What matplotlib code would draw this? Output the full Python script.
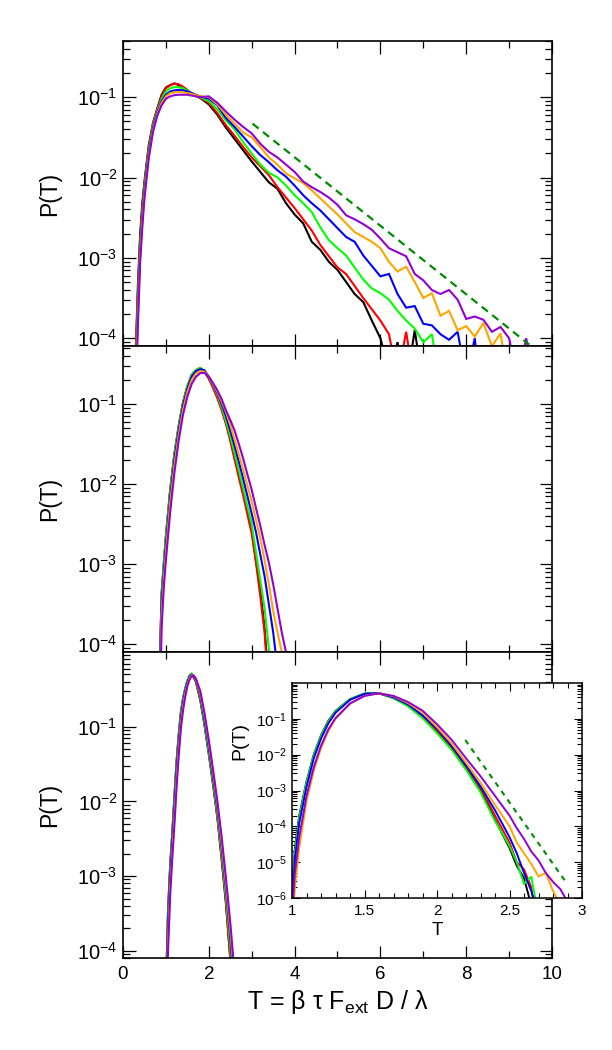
import numpy as np
import matplotlib
matplotlib.use("Agg")
import matplotlib.pyplot as plt
from matplotlib.ticker import FixedLocator, MultipleLocator, NullFormatter, FuncFormatter

plt.rcParams['font.family'] = ['Liberation Sans', 'DejaVu Sans']
plt.rcParams['mathtext.fontset'] = 'custom'
plt.rcParams['mathtext.rm'] = 'Liberation Sans'
plt.rcParams['mathtext.it'] = 'Liberation Sans:italic'
plt.rcParams['mathtext.bf'] = 'Liberation Sans:bold'

# ---- data: log10 P(T), one list per curve ----
colors = ['black', 'red', '#00ff00', 'blue', '#ffa500', '#9400d3']
dash_color = '#008b00'

# top panel
top_T = [0.3, 0.35, 0.4, 0.45, 0.5, 0.6, 0.7, 0.8, 0.9, 1.0, 1.1, 1.2, 1.3, 1.4, 1.5, 1.6, 1.8,
         2.0, 2.2, 2.4, 2.6, 2.8, 3.0, 3.2, 3.4, 3.6, 3.8, 4.0, 4.2, 4.4, 4.6, 4.8, 5.0, 5.2, 5.4,
         5.6, 5.8, 6.0, 6.2, 6.4, 6.6, 6.8, 7.0, 7.2, 7.4, 7.6, 7.8, 8.0, 8.2, 8.4, 8.6, 8.8, 9.0,
         9.2, 9.4, 9.6, 9.8, 10.0]
top_black = [-4.1, -3.3, -2.7, -2.32, -2.05, -1.60, -1.32, -1.14, -0.97, -0.88, -0.85, -0.83, -0.85, -0.88, -0.92, -0.96, -1.01,
             -1.09, -1.22, -1.38, -1.52, -1.66, -1.80, -1.93, -2.06, -2.14, -2.32, -2.46, -2.57, -2.80, -2.90, -3.05, -3.15, -3.30, -3.45,
             -3.55, -3.78, -4.00, -4.40, -4.05, -4.60, -3.90, -4.60, -5, -5, -5, -5, -5, -5, -5, -5, -5, -5,
             -5, -5, -5, -5, -5]
top_red = [-4.2, -3.4, -2.78, -2.38, -2.08, -1.63, -1.33, -1.15, -0.99, -0.89, -0.85, -0.83, -0.84, -0.87, -0.91, -0.95, -1.01,
           -1.07, -1.20, -1.35, -1.48, -1.62, -1.75, -1.86, -1.97, -2.12, -2.25, -2.38, -2.52, -2.66, -2.84, -2.98, -3.12, -3.20, -3.35,
           -3.50, -3.64, -3.78, -3.95, -4.50, -3.92, -4.60, -5, -5, -5, -5, -5, -5, -5, -5, -5, -5, -5,
           -5, -5, -5, -5, -5]
top_green = [-4.3, -3.5, -2.85, -2.44, -2.12, -1.66, -1.35, -1.17, -1.02, -0.93, -0.89, -0.875, -0.875, -0.89, -0.92, -0.95, -1.00,
             -1.05, -1.15, -1.29, -1.40, -1.56, -1.70, -1.84, -1.94, -2.00, -2.10, -2.22, -2.32, -2.43, -2.62, -2.78, -2.88, -2.97, -3.12,
             -3.27, -3.38, -3.44, -3.52, -3.66, -3.78, -3.88, -4.05, -3.95, -4.60, -5, -5, -5, -5, -5, -5, -5, -5,
             -5, -5, -5, -5, -5]
top_blue = [-4.45, -3.6, -2.93, -2.50, -2.17, -1.70, -1.38, -1.19, -1.05, -0.97, -0.93, -0.915, -0.91, -0.915, -0.93, -0.95, -0.99,
            -1.02, -1.10, -1.26, -1.37, -1.49, -1.61, -1.72, -1.81, -1.91, -1.99, -2.10, -2.22, -2.32, -2.41, -2.52, -2.63, -2.74, -2.80,
            -2.97, -3.10, -3.23, -3.20, -3.45, -3.62, -3.60, -3.82, -3.84, -3.95, -4.02, -3.92, -4.50, -4.00, -5, -5, -5, -5,
            -5, -5, -5, -5, -5]
top_orange = [-4.55, -3.7, -3.0, -2.56, -2.22, -1.74, -1.41, -1.21, -1.07, -0.99, -0.95, -0.94, -0.935, -0.94, -0.95, -0.96, -0.99,
              -1.00, -1.09, -1.22, -1.33, -1.44, -1.50, -1.62, -1.75, -1.84, -1.95, -2.01, -2.07, -2.16, -2.26, -2.36, -2.46, -2.57, -2.68,
              -2.74, -2.80, -2.88, -3.05, -3.17, -3.11, -3.30, -3.50, -3.44, -3.72, -3.66, -3.90, -3.85, -3.98, -3.81, -4.10, -3.94, -4.60,
              -5, -5, -5, -5, -5]
top_purple = [-4.7, -3.8, -3.05, -2.62, -2.26, -1.76, -1.43, -1.23, -1.10, -1.02, -0.99, -0.975, -0.97, -0.97, -0.97, -0.98, -1.00,
              -0.99, -1.07, -1.18, -1.28, -1.37, -1.45, -1.58, -1.68, -1.75, -1.84, -1.93, -2.05, -2.12, -2.18, -2.25, -2.34, -2.47, -2.52,
              -2.58, -2.65, -2.76, -2.88, -2.93, -2.98, -3.20, -3.28, -3.40, -3.45, -3.40, -3.52, -3.76, -3.73, -3.77, -3.92, -3.86, -4.00,
              -4.50, -4.00, -4.60, -5, -4.06]
top_fit_T = [3.02, 9.47]
top_fit = [-1.33, -4.08]

# middle panel
mid_T = [0.85, 0.9, 0.95, 1.0, 1.1, 1.2, 1.3, 1.4, 1.5, 1.6, 1.7, 1.8, 1.9, 2.0, 2.1, 2.2, 2.3,
         2.4, 2.5, 2.6, 2.7, 2.8, 2.9, 3.0, 3.1, 3.2, 3.3, 3.4, 3.5, 3.6, 3.7, 3.8, 3.9]
mid_black = [-4.5, -3.36, -3.0, -2.65, -2.07, -1.62, -1.27, -0.98, -0.78, -0.64, -0.58, -0.555, -0.60, -0.68, -0.79, -0.91, -1.06,
             -1.23, -1.43, -1.66, -1.88, -2.10, -2.33, -2.56, -2.96, -3.32, -3.80, -4.5, -5, -5, -5, -5, -5]
mid_red = [-4.3, -3.4, -3.02, -2.66, -2.08, -1.62, -1.27, -0.98, -0.78, -0.64, -0.575, -0.55, -0.59, -0.68, -0.80, -0.93, -1.08,
           -1.25, -1.46, -1.69, -1.92, -2.14, -2.38, -2.62, -2.98, -3.40, -3.85, -4.6, -5, -5, -5, -5, -5]
mid_green = [-4.4, -3.4, -3.0, -2.66, -2.09, -1.63, -1.28, -0.99, -0.78, -0.64, -0.575, -0.55, -0.58, -0.66, -0.77, -0.89, -1.04,
             -1.21, -1.40, -1.61, -1.83, -2.05, -2.28, -2.50, -2.85, -3.20, -3.55, -4.05, -4.6, -5, -5, -5, -5]
mid_blue = [-4.6, -3.5, -3.1, -2.75, -2.16, -1.69, -1.32, -1.02, -0.81, -0.66, -0.59, -0.565, -0.58, -0.66, -0.76, -0.87, -1.00,
            -1.15, -1.33, -1.52, -1.72, -1.93, -2.15, -2.37, -2.60, -2.88, -3.15, -3.50, -3.85, -4.3, -5, -5, -5]
mid_orange = [-4.8, -3.65, -3.2, -2.85, -2.24, -1.76, -1.38, -1.07, -0.85, -0.70, -0.62, -0.59, -0.595, -0.66, -0.75, -0.85, -0.97,
              -1.10, -1.26, -1.44, -1.63, -1.82, -2.02, -2.22, -2.45, -2.68, -2.95, -3.25, -3.58, -3.85, -4.1, -4.6, -5]
mid_purple = [-5.0, -3.8, -3.3, -2.95, -2.35, -1.85, -1.45, -1.13, -0.91, -0.75, -0.66, -0.615, -0.61, -0.66, -0.74, -0.83, -0.94,
              -1.08, -1.20, -1.33, -1.50, -1.68, -1.88, -2.07, -2.30, -2.52, -2.76, -2.98, -3.25, -3.55, -3.85, -4.1, -4.6]

# bottom panel
bot_T = [1.0, 1.05, 1.1, 1.15, 1.2, 1.25, 1.3, 1.35, 1.4, 1.45, 1.5, 1.55, 1.6, 1.65, 1.7,
         1.8, 1.9, 2.0, 2.1, 2.2, 2.3, 2.4, 2.5, 2.6, 2.7]
bot_black = [-4.6, -3.45, -2.85, -2.41, -1.92, -1.45, -1.10, -0.80, -0.62, -0.49, -0.39, -0.33, -0.31, -0.34, -0.40,
             -0.64, -0.98, -1.37, -1.78, -2.22, -2.78, -3.37, -4.1, -5, -5]
bot_red = [-4.7, -3.5, -2.88, -2.44, -1.95, -1.48, -1.12, -0.82, -0.63, -0.50, -0.39, -0.325, -0.30, -0.33, -0.39,
           -0.62, -0.96, -1.35, -1.76, -2.20, -2.75, -3.35, -4.1, -5, -5]
bot_green = [-4.8, -3.55, -2.92, -2.48, -1.98, -1.50, -1.14, -0.83, -0.63, -0.49, -0.38, -0.31, -0.29, -0.32, -0.38,
             -0.61, -0.95, -1.34, -1.74, -2.17, -2.70, -3.28, -3.95, -5, -5]
bot_blue = [-4.85, -3.65, -3.0, -2.55, -2.06, -1.57, -1.20, -0.88, -0.67, -0.52, -0.41, -0.33, -0.30, -0.32, -0.37,
            -0.58, -0.90, -1.28, -1.68, -2.10, -2.62, -3.18, -3.82, -4.6, -5]
bot_orange = [-5.0, -3.85, -3.15, -2.68, -2.20, -1.70, -1.30, -0.96, -0.73, -0.56, -0.44, -0.35, -0.31, -0.32, -0.36,
              -0.55, -0.85, -1.22, -1.62, -2.04, -2.55, -3.10, -3.72, -4.4, -5]
bot_purple = [-5.0, -4.0, -3.25, -2.75, -2.30, -1.80, -1.38, -1.02, -0.78, -0.60, -0.46, -0.37, -0.32, -0.32, -0.36,
              -0.52, -0.82, -1.18, -1.58, -2.00, -2.48, -3.03, -3.62, -4.3, -5]

# inset (zoom of the bottom panel)
ins_T = [1.0, 1.02, 1.05, 1.1, 1.15, 1.2, 1.25, 1.3, 1.4, 1.5, 1.6, 1.7, 1.8, 1.9, 2.0,
         2.1, 2.2, 2.3, 2.4, 2.5, 2.55, 2.6, 2.65, 2.7, 2.75, 2.8, 2.85, 2.9, 2.95, 3.0]
ins_black = [-6.0, -4.6, -3.7, -2.75, -2.0, -1.46, -1.06, -0.78, -0.45, -0.30, -0.29, -0.42, -0.63, -0.95, -1.35,
             -1.80, -2.35, -2.95, -3.82, -4.60, -5.10, -5.45, -6.2, -7, -7, -7, -7, -7, -7, -7]
ins_red = [-6.2, -4.8, -3.8, -2.82, -2.05, -1.50, -1.09, -0.80, -0.46, -0.30, -0.29, -0.41, -0.62, -0.93, -1.32,
           -1.78, -2.33, -2.92, -3.70, -4.45, -5.0, -5.2, -5.7, -7, -7, -7, -7, -7, -7, -7]
ins_green = [-6.1, -4.7, -3.75, -2.78, -2.02, -1.48, -1.08, -0.79, -0.45, -0.29, -0.28, -0.42, -0.65, -0.98, -1.40,
             -1.86, -2.42, -3.05, -3.85, -4.55, -5.0, -5.6, -5.4, -6.5, -7, -7, -7, -7, -7, -7]
ins_blue = [-6.3, -4.9, -3.9, -2.9, -2.1, -1.55, -1.13, -0.83, -0.47, -0.30, -0.28, -0.40, -0.60, -0.90, -1.28,
            -1.75, -2.30, -2.88, -3.55, -4.30, -4.75, -5.3, -5.8, -6.5, -7, -7, -7, -7, -7, -7]
ins_orange = [-7, -5.7, -4.6, -3.3, -2.45, -1.82, -1.35, -1.0, -0.58, -0.36, -0.285, -0.37, -0.56, -0.82, -1.23,
              -1.68, -2.22, -2.78, -3.40, -4.00, -4.45, -4.75, -5.05, -5.4, -5.3, -5.8, -6.2, -7, -7, -7]
ins_purple = [-6.5, -5.3, -4.3, -3.15, -2.35, -1.75, -1.30, -0.98, -0.57, -0.36, -0.29, -0.36, -0.53, -0.77, -1.15,
              -1.58, -2.10, -2.60, -3.15, -3.70, -4.05, -4.35, -4.7, -4.95, -5.3, -5.55, -5.75, -6.1, -7, -7]
ins_fit_T = [2.195, 2.897]
ins_fit = [-1.59, -5.6]

# ---- figure ----
W, H = 612, 1050
fig = plt.figure(figsize=(W / 100, H / 100), dpi=100)


def logfmt(v, pos):
    return r'$\mathregular{10^{%d}}$' % int(round(np.log10(v)))


def style_axis(ax, ylim, labels):
    ax.set_yscale('log')
    ax.set_xlim(0, 10)
    ax.set_ylim(*ylim)
    ax.xaxis.set_major_locator(MultipleLocator(2))
    ax.xaxis.set_minor_locator(MultipleLocator(1))
    ax.yaxis.set_major_locator(FixedLocator([1e-4, 1e-3, 1e-2, 1e-1]))
    minors = [m * 10.0 ** e for e in range(-5, 1) for m in range(2, 10)]
    ax.yaxis.set_minor_locator(FixedLocator(minors))
    ax.yaxis.set_major_formatter(FuncFormatter(logfmt))
    ax.yaxis.set_minor_formatter(NullFormatter())
    ax.tick_params(which='both', direction='in', top=True, right=True, width=0.9)
    ax.tick_params(which='major', length=9)
    ax.tick_params(which='minor', length=5)
    ax.tick_params(axis='y', which='major', labelsize=14.5, pad=4)
    ax.tick_params(axis='x', which='major', labelsize=13.5, pad=6)
    if not labels:
        ax.tick_params(axis='x', labelbottom=False)
    for s in ax.spines.values():
        s.set_linewidth(1.2)
    ax.set_ylabel('P(T)', fontsize=16.5)
    ax.yaxis.set_label_coords(-0.145, 0.5)


def draw(ax, T, curves, lw=1.5):
    for c, vals in zip(colors, curves):
        ax.plot(T, 10.0 ** np.array(vals), color=c, lw=lw, solid_joinstyle='miter')


left, width = 123 / W, 429 / W
ax1 = fig.add_axes([left, 1 - 346 / H, width, 305 / H])
ax2 = fig.add_axes([left, 1 - 652 / H, width, 306 / H])
ax3 = fig.add_axes([left, 1 - 958 / H, width, 306 / H])

draw(ax1, top_T, [top_black, top_red, top_green, top_blue, top_orange, top_purple])
ax1.plot(top_fit_T, 10.0 ** np.array(top_fit), color=dash_color, lw=1.6, dashes=(3.5, 2.5))
style_axis(ax1, (8e-5, 0.5), False)

draw(ax2, mid_T, [mid_black, mid_red, mid_green, mid_blue, mid_orange, mid_purple])
style_axis(ax2, (8e-5, 0.53), False)

draw(ax3, bot_T, [bot_black, bot_red, bot_green, bot_blue, bot_orange, bot_purple])
style_axis(ax3, (8e-5, 1.0), True)
ax3.set_xlabel('T = β τ F$_{\\mathregular{ext}}$ D / λ', fontsize=18, labelpad=3)

# inset
axi = fig.add_axes([292 / W, 1 - 898 / H, 290 / W, 215 / H])
draw(axi, ins_T, [ins_black, ins_red, ins_green, ins_blue, ins_orange, ins_purple], lw=1.4)
axi.plot(ins_fit_T, 10.0 ** np.array(ins_fit), color=dash_color, lw=1.5, dashes=(2.5, 2.5))
axi.set_yscale('log')
axi.set_xlim(1, 3)
axi.set_ylim(1e-6, 1)
axi.xaxis.set_major_locator(FixedLocator([1, 1.5, 2, 2.5, 3]))
axi.xaxis.set_major_formatter(FuncFormatter(lambda v, p: '%g' % v))
axi.xaxis.set_minor_locator(MultipleLocator(0.1))
axi.yaxis.set_major_locator(FixedLocator([1e-6, 1e-5, 1e-4, 1e-3, 1e-2, 1e-1]))
axi.yaxis.set_minor_locator(FixedLocator([m * 10.0 ** e for e in range(-6, 0) for m in range(2, 10)]))
axi.yaxis.set_major_formatter(FuncFormatter(logfmt))
axi.yaxis.set_minor_formatter(NullFormatter())
axi.tick_params(which='both', direction='in', top=True, right=True, width=0.8)
axi.tick_params(which='major', length=6, labelsize=11, pad=4)
axi.tick_params(which='minor', length=3.5)
for s in axi.spines.values():
    s.set_linewidth(1.1)
axi.set_xlabel('T', fontsize=13.5, labelpad=3)
axi.set_ylabel('P(T)', fontsize=14)
axi.yaxis.set_label_coords(-0.15, 0.73)

fig.savefig('out.png', dpi=100)
